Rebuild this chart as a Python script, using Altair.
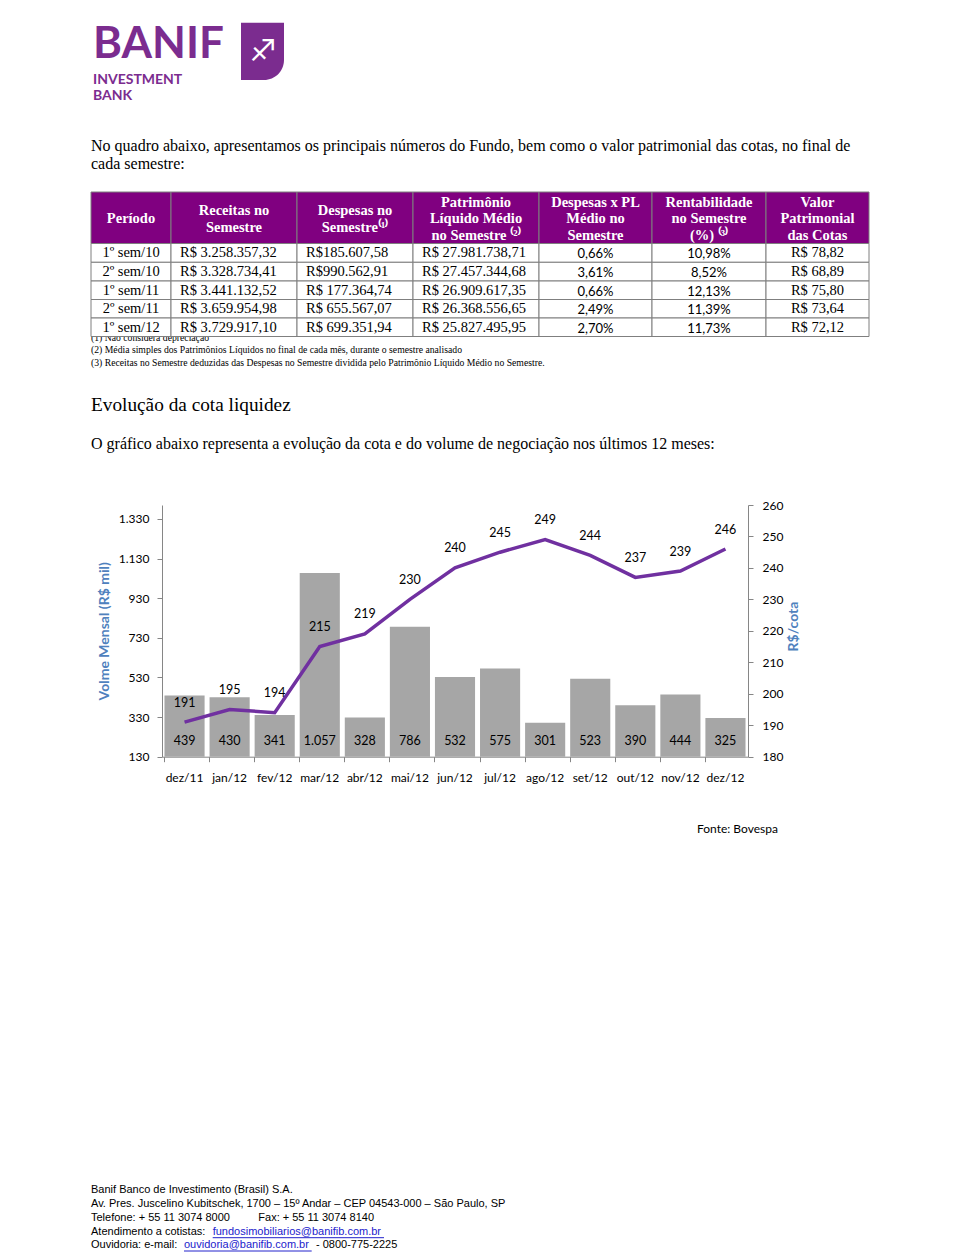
import altair as alt
import pandas as pd

# ---------------- data ----------------
MONTHS = ["dez/11", "jan/12", "fev/12", "mar/12", "abr/12", "mai/12", "jun/12",
          "jul/12", "ago/12", "set/12", "out/12", "nov/12", "dez/12"]
VOLUME = [439, 430, 341, 1057, 328, 786, 532, 575, 301, 523, 390, 444, 325]
COTA = [191, 195, 194, 215, 219, 230, 240, 245, 249, 244, 237, 239, 246]
VOLUME_TICKS = [130, 330, 530, 730, 930, 1130, 1330]
COTA_TICKS = [180, 190, 200, 210, 220, 230, 240, 250, 260]
VOLUME_TITLE = "Volme Mensal (R$ mil)"
COTA_TITLE = "R$/cota"

TABLE_HEADERS = ["Período", "Receitas no\nSemestre", "Despesas no\nSemestre⁽¹⁾",
                 "Patrimônio\nLíquido Médio\nno Semestre ⁽²⁾", "Despesas x PL\nMédio no\nSemestre",
                 "Rentabilidade\nno Semestre\n(%) ⁽³⁾", "Valor\nPatrimonial\ndas Cotas"]
PERIODS = ["1º sem/10", "2º sem/10", "1º sem/11", "2º sem/11", "1º sem/12"]
RECEITAS = ["R$ 3.258.357,32", "R$ 3.328.734,41", "R$ 3.441.132,52", "R$ 3.659.954,98", "R$ 3.729.917,10"]
DESPESAS = ["R$185.607,58", "R$990.562,91", "R$ 177.364,74", "R$ 655.567,07", "R$ 699.351,94"]
PL_MEDIO = ["R$ 27.981.738,71", "R$ 27.457.344,68", "R$ 26.909.617,35", "R$ 26.368.556,65", "R$ 25.827.495,95"]
DESP_PL = ["0,66%", "3,61%", "0,66%", "2,49%", "2,70%"]
RENTAB = ["10,98%", "8,52%", "12,13%", "11,39%", "11,73%"]
VALOR_COTA = ["R$ 78,82", "R$ 68,89", "R$ 75,80", "R$ 73,64", "R$ 72,12"]
TABLE_NOTES = ["(1) Não considera depreciação",
               "(2) Média simples dos Patrimônios Líquidos no final de cada mês, durante o semestre analisado",
               "(3) Receitas no Semestre deduzidas das Despesas no Semestre dividida pelo Patrimônio Líquido Médio no Semestre."]

INTRO_LINES = ["No quadro abaixo, apresentamos os principais números do Fundo, bem como o valor patrimonial das cotas, no final de",
               "cada semestre:"]
SECTION_TITLE = "Evolução da cota liquidez"
SECTION_TEXT = "O gráfico abaixo representa a evolução da cota e do volume de negociação nos últimos 12 meses:"
SOURCE = "Fonte: Bovespa"
LOGO_WORD = "BANIF"
LOGO_SUB = ["INVESTMENT", "BANK"]
FOOTER_PLAIN = ["Banif Banco de Investimento (Brasil) S.A.",
                "Av. Pres. Juscelino Kubitschek, 1700 – 15º Andar – CEP 04543-000 – São Paulo, SP",
                "Telefone: + 55 11 3074 8000", "Fax: + 55 11 3074 8140",
                "Atendimento a cotistas:", "Ouvidoria: e-mail:", "- 0800-775-2225"]
FOOTER_LINKS = ["fundosimobiliarios@banifib.com.br", "ouvidoria@banifib.com.br"]

# ---------------- layout / style ----------------
W, H = 920, 1244
X_RANGE = [154, 740]
Y_RANGE = [748.7, 497]
COL_EDGES = [83, 163, 289, 405, 531, 644, 758, 861]
ROW_EDGES = [184, 235.5, 254.3, 273, 291.5, 310, 328.5]
HEADER_LINE_H = 16.5
SERIF = "Liberation Serif"
SANS = "Lato"
FOOT_FONT = "Liberation Sans"
HEADER_PURPLE = "#800080"
LOGO_PURPLE = "#7B2C8F"
LINE_PURPLE = "#7030A0"
BAR_GREY = "#A6A6A6"
AXIS_GREY = "#868686"
TITLE_BLUE = "#4F81BD"
LINK_BLUE = "#2222CC"


def page_text(texts, xs, ys, **mark):
    df = pd.DataFrame({"t": texts, "px": xs, "py": ys})
    return alt.Chart(df).mark_text(**mark).encode(
        x=alt.X("px:Q", scale=None, axis=None),
        y=alt.Y("py:Q", scale=None, axis=None),
        text="t:N",
    )


layers = []

# ---- logo ----
layers.append(alt.Chart(alt.Data(values=[{}])).mark_rect(
    color=LOGO_PURPLE, cornerRadiusBottomRight=20).encode(
    x=alt.value(233), x2=alt.value(276), y=alt.value(14.7), y2=alt.value(72)))
layers.append(page_text(["♐"], [255], [44], font="DejaVu Sans", fontSize=30, color="white",
                        align="center", baseline="middle"))
layers.append(page_text([LOGO_WORD], [85], [50.3], font=SANS, fontSize=44, fontWeight="bold",
                        color=LOGO_PURPLE, align="left", baseline="alphabetic"))
layers.append(page_text(LOGO_SUB, [85, 85], [76, 92], font=SANS, fontSize=14, fontWeight="bold",
                        color=LOGO_PURPLE, align="left", baseline="alphabetic"))

# ---- intro ----
layers.append(page_text(INTRO_LINES, [83, 83], [138, 156], font=SERIF, fontSize=16,
                        color="black", align="left", baseline="middle"))

# ---- table notes (drawn before table so border overlaps first note) ----
layers.append(page_text(TABLE_NOTES, [83, 83, 83], [329.5, 342, 355], font=SERIF, fontSize=9.7,
                        color="black", align="left", baseline="middle"))

# ---- table ----
columns_data = [PERIODS, RECEITAS, DESPESAS, PL_MEDIO, DESP_PL, RENTAB, VALOR_COTA]
kinds = ["cserif", "left", "left", "left", "csans", "csans", "cserif"]
header_row_h = ROW_EDGES[1] - ROW_EDGES[0]
cells = []
for c in range(len(TABLE_HEADERS)):
    cells.append(dict(c0=c, c1=c + 1, cx=c + 0.5, r0=0, r1=1, cy=0.5, t="", kind="header_cell"))
    hlines = TABLE_HEADERS[c].split("\n")
    n = len(hlines)
    for i, line in enumerate(hlines):
        cells.append(dict(c0=c, c1=c + 1, cx=c + 0.5, r0=0, r1=1,
                          cy=0.5 + (i - (n - 1) / 2) * HEADER_LINE_H / header_row_h,
                          t=line, kind="header"))
    for r, val in enumerate(columns_data[c], start=1):
        cells.append(dict(c0=c, c1=c + 1, cx=c + 0.5, r0=r, r1=r + 1, cy=r + 0.5,
                          t=val, kind=kinds[c]))
cells_df = pd.DataFrame(cells)


def col_scale():
    return alt.Scale(type="linear", domain=list(range(len(COL_EDGES))), range=COL_EDGES,
                     zero=False, nice=False)


def row_scale():
    return alt.Scale(type="linear", domain=list(range(len(ROW_EDGES))), range=ROW_EDGES,
                     zero=False, nice=False)


base_tbl = alt.Chart(cells_df)
layers.append(base_tbl.transform_filter("datum.kind == 'header_cell'").mark_rect(
    fill=HEADER_PURPLE, stroke="#7F7F7F", strokeWidth=1).encode(
    x=alt.X("c0:Q", scale=col_scale(), axis=None), x2="c1:Q",
    y=alt.Y("r0:Q", scale=row_scale(), axis=None), y2="r1:Q"))
layers.append(base_tbl.transform_filter("datum.r0 > 0").mark_rect(
    fill="white", stroke="#7F7F7F", strokeWidth=1).encode(
    x=alt.X("c0:Q", scale=col_scale(), axis=None), x2="c1:Q",
    y=alt.Y("r0:Q", scale=row_scale(), axis=None), y2="r1:Q"))

layers.append(base_tbl.transform_filter("datum.kind == 'header'").mark_text(
    font=SERIF, fontSize=14.5, fontWeight="bold", color="white",
    align="center", baseline="middle", dy=1.5).encode(
    x=alt.X("cx:Q", scale=col_scale(), axis=None),
    y=alt.Y("cy:Q", scale=row_scale(), axis=None), text="t:N"))
layers.append(base_tbl.transform_filter("datum.kind == 'left'").mark_text(
    font=SERIF, fontSize=14.5, color="black", align="left", baseline="middle", dx=9, dy=0.5).encode(
    x=alt.X("c0:Q", scale=col_scale(), axis=None),
    y=alt.Y("cy:Q", scale=row_scale(), axis=None), text="t:N"))
layers.append(base_tbl.transform_filter("datum.kind == 'cserif'").mark_text(
    font=SERIF, fontSize=14.5, color="black", align="center", baseline="middle", dy=0.5).encode(
    x=alt.X("cx:Q", scale=col_scale(), axis=None),
    y=alt.Y("cy:Q", scale=row_scale(), axis=None), text="t:N"))
layers.append(base_tbl.transform_filter("datum.kind == 'csans'").mark_text(
    font=SANS, fontSize=13, color="black", align="center", baseline="middle", dy=1.5).encode(
    x=alt.X("cx:Q", scale=col_scale(), axis=None),
    y=alt.Y("cy:Q", scale=row_scale(), axis=None), text="t:N"))

# ---- section heading ----
layers.append(page_text([SECTION_TITLE], [83], [397], font=SERIF, fontSize=19.3,
                        color="black", align="left", baseline="middle"))
layers.append(page_text([SECTION_TEXT], [83], [436], font=SERIF, fontSize=16,
                        color="black", align="left", baseline="middle"))

# ---- combo chart ----
chart_df = pd.DataFrame({"mes": MONTHS, "volume": VOLUME, "cota": COTA,
                         "vol_label": [f"{v:,}".replace(",", ".") for v in VOLUME]})


def x_enc(axis=None):
    return alt.X("mes:N", sort=MONTHS,
                 scale=alt.Scale(domain=MONTHS, range=X_RANGE, paddingInner=0.11, paddingOuter=0.055),
                 axis=axis)


def vol_scale():
    return alt.Scale(domain=[130, 1400], range=Y_RANGE, zero=False, nice=False)


def cota_scale():
    return alt.Scale(domain=[180, 260], range=Y_RANGE, zero=False, nice=False)


axis_common = dict(domainColor=AXIS_GREY, tickColor=AXIS_GREY, tickSize=5, grid=False,
                   labelFont=SANS, labelFontSize=12, labelColor="black")

x_axis = alt.Axis(title=None, orient="bottom", offset=Y_RANGE[0] - H, bandPosition=0,
                  labelAngle=0, labelPadding=11, **axis_common)
vol_axis = alt.Axis(title=VOLUME_TITLE, orient="left", offset=-X_RANGE[0], values=VOLUME_TICKS,
                    labelExpr="replace(format(datum.value, ','), ',', '.')", labelPadding=8,
                    titleFont=SANS, titleFontSize=14, titleFontWeight="bold", titleColor=TITLE_BLUE,
                    titleAngle=270, titleBaseline="middle", titleX=-58, **axis_common)
cota_axis = alt.Axis(title=COTA_TITLE, orient="right", offset=X_RANGE[1] - W, values=COTA_TICKS,
                     labelPadding=9, titleFont=SANS, titleFontSize=14, titleFontWeight="bold",
                     titleColor=TITLE_BLUE, titleAngle=270, titleBaseline="middle", titleX=45,
                     titleY=618, **axis_common)

cbase = alt.Chart(chart_df)
layers.append(cbase.mark_bar(color=BAR_GREY).encode(
    x=x_enc(x_axis),
    y=alt.Y("volume:Q", scale=vol_scale(), axis=vol_axis),
    y2=alt.datum(130)))
layers.append(cbase.mark_text(font=SANS, fontSize=12.5, color="black", dy=-15.7).encode(
    x=x_enc(), y=alt.YDatum(130, scale=vol_scale(), axis=None),
    text="vol_label:N"))
layers.append(cbase.mark_line(color=LINE_PURPLE, strokeWidth=3.5).encode(
    x=x_enc(), y=alt.Y("cota:Q", scale=cota_scale(), axis=cota_axis)))
layers.append(cbase.mark_text(font=SANS, fontSize=12.5, color="black", dy=-19.5).encode(
    x=x_enc(), y=alt.Y("cota:Q", scale=cota_scale(), axis=None), text="cota:Q"))

# ---- source & footer ----
layers.append(page_text([SOURCE], [689], [821], font=SANS, fontSize=12, color="black",
                        align="left", baseline="middle"))
layers.append(page_text(FOOTER_PLAIN,
                        [83, 83, 83, 250.3, 83, 83, 308],
                        [1182, 1196.3, 1209.7, 1209.7, 1223.7, 1237, 1237],
                        font=FOOT_FONT, fontSize=11, color="black", align="left", baseline="middle"))
layers.append(page_text(FOOTER_LINKS, [204.7, 176], [1223.7, 1237], font=FOOT_FONT, fontSize=11,
                        color=LINK_BLUE, align="left", baseline="middle"))
underline_df = pd.DataFrame({"ux": [204.7, 176], "ux2": [376, 303.7], "uy": [1229.7, 1243]})
layers.append(alt.Chart(underline_df).mark_rule(color=LINK_BLUE, strokeWidth=1).encode(
    x=alt.X("ux:Q", scale=None, axis=None), x2="ux2:Q",
    y=alt.Y("uy:Q", scale=None, axis=None)))

chart = alt.layer(*layers).resolve_scale(x="independent", y="independent").properties(
    width=W, height=H, autosize=alt.AutoSizeParams(type="none"), padding=0,
    background="white").configure_view(stroke=None)

chart.save("out.html", embed_options={"renderer": "svg", "actions": False})
